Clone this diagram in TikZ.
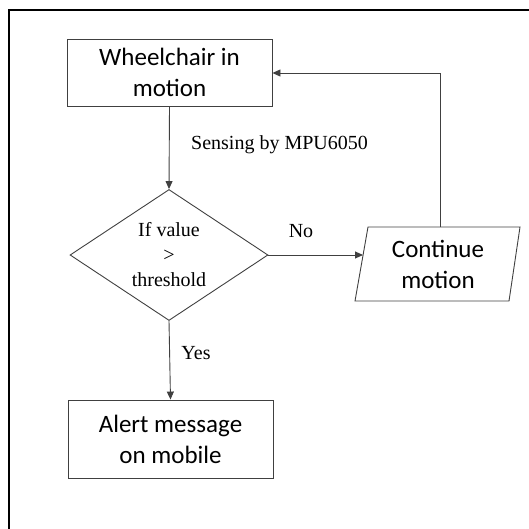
\documentclass[tikz,border=0pt]{standalone}
\usepackage{fontspec}
\setmainfont{Liberation Serif}
\newfontfamily\boxfont{Carlito}
\usetikzlibrary{arrows.meta,shapes.geometric}
\begin{document}
\begin{tikzpicture}[x=1pt,y=-1pt,
  line/.style={draw=black!75,line width=0.9pt},
  arr/.style={line,-{Triangle[length=8pt,width=7pt]}},
  procbox/.style={line,rectangle,minimum width=205pt,minimum height=67pt,inner sep=0pt,
    align=center,font=\boxfont\fontsize{25}{31}\selectfont},
  dec/.style={line,diamond,minimum width=198pt,minimum height=131pt,inner sep=0pt,aspect=1.5,
    align=center,font=\fontsize{20}{25}\selectfont},
  lbl/.style={inner sep=0pt,font=\fontsize{20}{24}\selectfont}]
\useasboundingbox (0,0) rectangle (529,529);
% outer frame
\draw[line width=2pt,black] (9,529) -- (9,10) -- (529,10);
% nodes
\node[procbox] (wc) at (169.5,72.5) {Wheelchair in\\motion};
\node[dec] (dia) at (169,255) {If value\\>\\threshold};
\node[procbox,minimum height=78pt] (alert) at (170.5,439) {Alert message\\on mobile};
% parallelogram
\draw[line] (355,301) -- (368,227) -- (520,227) -- (509,301) -- cycle;
\node[align=center,inner sep=0pt,font=\boxfont\fontsize{25}{31}\selectfont] (cont) at (438,264) {Continue\\motion};
\coordinate (contL) at (363,255);
\coordinate (contT) at (440,227);
% connectors
\draw[arr] (wc.south) -- (dia.north);
\draw[arr] (dia.east) -- (contL);
\draw[arr] (dia.south) -- (alert.north);
\draw[arr] (contT) |- (wc.east |- 0,73);
% labels
\node[lbl,anchor=west] (sens) at (191,145) {Sensing by MPU6050};
\node[lbl] (no) at (301,231) {No};
\node[lbl] (yes) at (196,353) {Yes};
\end{tikzpicture}
\end{document}
